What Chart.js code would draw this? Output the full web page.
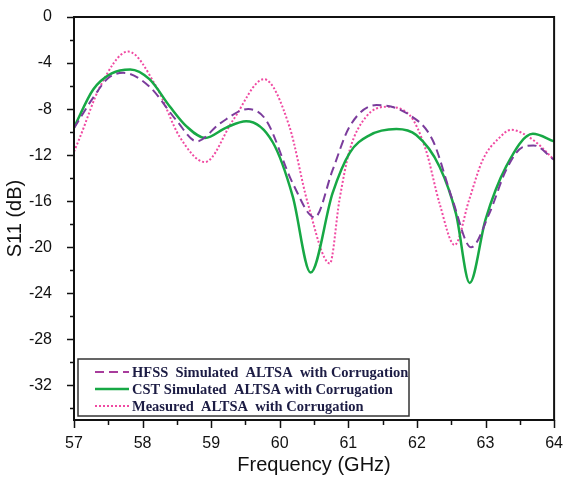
<!DOCTYPE html>
<html lang="en">
<head>
  <meta charset="UTF-8" />
  <title>S11 vs Frequency</title>
  <script src="https://cdn.jsdelivr.net/npm/chart.js"></script>
  <style>
    body {
      margin: 0;
      padding: 0;
      background-color: #fff;
    }
    canvas {
      display: block;
    }
  </style>
</head>
<body>
  <canvas id="s11Chart" width="563" height="478"></canvas>
  <script>
    // values
    const xTicks = [57, 58, 59, 60, 61, 62, 63, 64];
    const yTicks = [0, -4, -8, -12, -16, -20, -24, -28, -32];

    const hfssFreq = [57.0, 57.28, 57.5, 57.72, 58.1, 58.49, 58.79, 59.13, 59.54, 59.8, 60.19, 60.51, 60.77, 61.02, 61.41, 61.89, 62.23, 62.52, 62.79, 63.06, 63.3, 63.54, 63.7, 64.0];
    const hfssS11 = [-9.65, -7.0, -5.3, -4.85, -6.05, -8.95, -10.8, -9.24, -8.0, -8.95, -14.45, -17.4, -13.3, -9.5, -7.65, -8.5, -10.7, -15.9, -20.0, -17.0, -13.3, -11.3, -11.15, -12.4];

    const cstFreq = [57.0, 57.28, 57.55, 57.82, 58.1, 58.4, 58.64, 58.91, 59.22, 59.51, 59.9, 60.19, 60.45, 60.77, 61.02, 61.3, 61.7, 61.99, 62.33, 62.57, 62.77, 63.0, 63.3, 63.69, 64.0];
    const cstS11 = [-9.6, -6.3, -4.9, -4.55, -5.4, -7.8, -9.5, -10.5, -9.6, -9.05, -10.9, -15.6, -22.2, -15.3, -11.8, -10.3, -9.73, -10.25, -13.0, -17.1, -23.1, -17.6, -13.0, -10.15, -10.8];

    const measFreq = [57.0, 57.09, 57.38, 57.79, 58.2, 58.54, 58.91, 59.32, 59.77, 60.14, 60.41, 60.73, 60.87, 61.02, 61.26, 61.55, 61.89, 62.13, 62.33, 62.55, 62.76, 62.96, 63.2, 63.37, 63.7, 64.0];
    const measS11 = [-11.7, -10.4, -6.05, -3.0, -6.05, -10.4, -12.6, -8.95, -5.4, -9.5, -16.2, -21.4, -15.9, -11.55, -8.66, -7.8, -8.5, -11.55, -16.2, -19.8, -15.9, -12.4, -10.5, -9.8, -10.7, -12.4];

    const legendLabels = [
      'HFSS  Simulated  ALTSA  with Corrugation',
      'CST Simulated  ALTSA with Corrugation',
      'Measured  ALTSA  with Corrugation'
    ];

    function toPoints(xs, ys) {
      return xs.map((x, i) => ({ x: x, y: ys[i] }));
    }

    // frame, outward ticks (major + minor) and the legend box
    const framePlugin = {
      id: 'frame',
      afterDraw(chart) {
        const c = chart.ctx;
        const a = chart.chartArea;
        const xs = chart.scales.x;
        const ys = chart.scales.y;
        c.save();
        c.strokeStyle = '#111';
        c.lineWidth = 2;
        c.strokeRect(a.left, a.top, a.right - a.left, a.bottom - a.top);

        c.lineWidth = 1.5;
        c.beginPath();
        for (let v = 57; v <= 64.001; v += 0.5) {
          const px = Math.round(xs.getPixelForValue(v)) + 0.5;
          const len = Number.isInteger(v) ? 8 : 5;
          c.moveTo(px, a.bottom);
          c.lineTo(px, a.bottom + len);
        }
        for (let v = 0; v >= -34; v -= 2) {
          const py = Math.round(ys.getPixelForValue(v)) + 0.5;
          const len = v % 4 === 0 ? 7 : 4;
          c.moveTo(a.left, py);
          c.lineTo(a.left - len, py);
        }
        c.stroke();

        // legend
        const bx = 78, by = 359, bw = 331, bh = 57;
        c.fillStyle = '#fff';
        c.fillRect(bx, by, bw, bh);
        c.strokeStyle = '#333';
        c.lineWidth = 1.5;
        c.strokeRect(bx, by, bw, bh);
        const rows = [372, 389, 406];
        chart.data.datasets.forEach((ds, i) => {
          c.beginPath();
          c.strokeStyle = ds.legendColor || ds.borderColor;
          c.lineWidth = ds.borderWidth;
          c.setLineDash(ds.borderDash || []);
          c.moveTo(95, rows[i]);
          c.lineTo(129, rows[i]);
          c.stroke();
          c.setLineDash([]);
          c.fillStyle = '#1c1c44';
          c.font = 'bold 14.5px "Liberation Serif", "Times New Roman", serif';
          c.textBaseline = 'middle';
          c.textAlign = 'left';
          c.fillText(legendLabels[i], 132, rows[i] + 1);
        });
        c.restore();
      }
    };

    const ctx = document.getElementById('s11Chart').getContext('2d');
    new Chart(ctx, {
      type: 'line',
      data: {
        datasets: [
          {
            label: legendLabels[0],
            data: toPoints(hfssFreq, hfssS11),
            borderColor: '#7b3c9c',
            legendColor: '#a83c9c',
            borderWidth: 2,
            borderDash: [9, 5],
            pointRadius: 0,
            cubicInterpolationMode: 'monotone',
            fill: false
          },
          {
            label: legendLabels[1],
            data: toPoints(cstFreq, cstS11),
            borderColor: '#17a845',
            borderWidth: 2.5,
            pointRadius: 0,
            cubicInterpolationMode: 'monotone',
            fill: false
          },
          {
            label: legendLabels[2],
            data: toPoints(measFreq, measS11),
            borderColor: '#f04aa2',
            borderWidth: 2,
            borderDash: [2, 2],
            pointRadius: 0,
            cubicInterpolationMode: 'monotone',
            fill: false
          }
        ]
      },
      options: {
        responsive: false,
        animation: false,
        layout: {
          padding: { left: 0, right: 8, top: 17, bottom: 0 }
        },
        plugins: {
          legend: { display: false },
          tooltip: { enabled: false }
        },
        scales: {
          x: {
            type: 'linear',
            min: 57,
            max: 64,
            afterBuildTicks: (s) => { s.ticks = xTicks.map(v => ({ value: v })); },
            afterFit: (s) => { s.height = 58; },
            grid: { display: false, drawTicks: true, tickLength: 14 },
            border: { display: false },
            ticks: {
              color: '#111',
              padding: 0,
              maxRotation: 0,
              font: { family: '"Liberation Sans", Arial, sans-serif', size: 16 }
            },
            title: {
              display: true,
              text: 'Frequency (GHz)',
              color: '#111',
              padding: { top: 0, bottom: 1 },
              font: { family: '"Liberation Sans", Arial, sans-serif', size: 20 }
            }
          },
          y: {
            min: -35,
            max: 0,
            afterBuildTicks: (s) => { s.ticks = yTicks.map(v => ({ value: v })); },
            afterFit: (s) => { s.width = 74; },
            grid: { display: false, drawTicks: true, tickLength: 22 },
            border: { display: false },
            ticks: {
              color: '#111',
              padding: 0,
              font: { family: '"Liberation Sans", Arial, sans-serif', size: 16 }
            },
            title: {
              display: true,
              text: 'S11 (dB)',
              color: '#111',
              padding: { top: 3, bottom: 0 },
              font: { family: '"Liberation Sans", Arial, sans-serif', size: 20 }
            }
          }
        }
      },
      plugins: [framePlugin]
    });
  </script>
</body>
</html>
